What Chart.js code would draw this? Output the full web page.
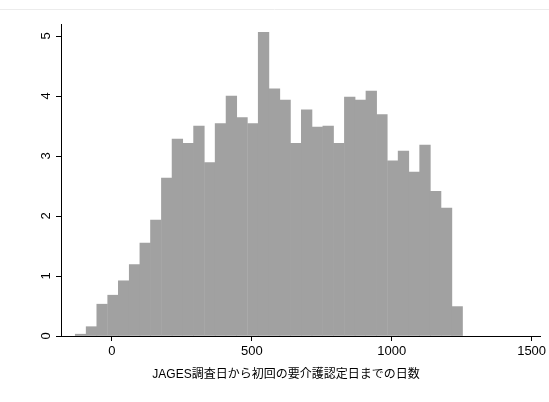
<!DOCTYPE html>
<html>
<head>
<meta charset="utf-8">
<script src="https://cdn.jsdelivr.net/npm/chart.js@4"></script>
<style>
  html, body { margin: 0; padding: 0; background: #fff; }
  #wrap { width: 549px; height: 402px; }
</style>
</head>
<body>
<div id="wrap"><canvas id="chart"></canvas></div>
<script>
// bin centers (days) and percent per bin
const binCenters = [-112, -73, -35, 4, 42, 81, 119, 157, 196, 234, 273, 311,
  350, 388, 427, 465, 504, 542, 581, 619, 657, 696, 734, 773,
  811, 850, 888, 927, 965, 1004, 1042, 1081, 1119, 1157, 1196, 1234];
const percents = [0.03, 0.155, 0.53, 0.68, 0.92, 1.19, 1.55, 1.93, 2.63, 3.28, 3.21, 3.5,
  2.89, 3.54, 4.0, 3.64, 3.54, 5.06, 4.12, 3.93, 3.21, 3.77, 3.48, 3.5,
  3.21, 3.98, 3.93, 4.08, 3.69, 2.92, 3.08, 2.73, 3.18, 2.41, 2.13, 0.49];
const xTicks = [0, 500, 1000, 1500];
const yTicks = [0, 1, 2, 3, 4, 5];
const xTitle = 'JAGES調査日から初回の要介護認定日までの日数';

const FONT = '"Liberation Sans", Arial, "Noto Sans CJK JP", sans-serif';

// rotated y labels, x title and the faint top rule
const extras = {
  id: 'extras',
  afterDraw(chart) {
    const ctx = chart.ctx;
    const y = chart.scales.y;
    ctx.save();
    ctx.strokeStyle = '#ececec';
    ctx.lineWidth = 1;
    ctx.beginPath();
    ctx.moveTo(0, 9.5);
    ctx.lineTo(chart.width, 9.5);
    ctx.stroke();

    ctx.fillStyle = '#000';
    ctx.font = '13px ' + FONT;
    ctx.textAlign = 'center';
    ctx.textBaseline = 'middle';
    yTicks.forEach(v => {
      ctx.save();
      ctx.translate(46, y.getPixelForValue(v));
      ctx.rotate(-Math.PI / 2);
      ctx.fillText(String(v), 0, 0);
      ctx.restore();
    });

    ctx.font = '12px ' + FONT;
    ctx.fillText(xTitle, 286, 375);
    ctx.restore();
  }
};

new Chart(document.getElementById('chart'), {
  type: 'bar',
  data: {
    datasets: [{
      data: binCenters.map((c, i) => ({ x: c, y: percents[i] })),
      backgroundColor: '#a1a1a1',
      borderWidth: 0,
      barPercentage: 1,
      categoryPercentage: 1
    }]
  },
  options: {
    responsive: true,
    maintainAspectRatio: false,
    animation: false,
    events: [],
    layout: { padding: { left: 0, right: 9, top: 24, bottom: 0 } },
    plugins: {
      legend: { display: false },
      tooltip: { enabled: false }
    },
    scales: {
      x: {
        type: 'linear',
        offset: false,
        min: -182,
        max: 1530,
        afterBuildTicks: s => { s.ticks = xTicks.map(v => ({ value: v })); },
        afterFit: s => { s.height = 66; s.paddingLeft = 0; s.paddingRight = 0; },
        border: { display: true, color: '#000', width: 1 },
        grid: { offset: false, drawOnChartArea: false, drawTicks: true, tickLength: 5, color: '#000' },
        ticks: {
          color: '#000', font: { size: 13, family: FONT }, padding: 3, maxRotation: 0,
          callback: v => String(v)
        }
      },
      y: {
        min: 0,
        max: 5.2,
        afterBuildTicks: s => { s.ticks = yTicks.map(v => ({ value: v })); },
        afterFit: s => { s.width = 61; s.paddingTop = 0; s.paddingBottom = 0; },
        border: { display: true, color: '#000', width: 1 },
        grid: { drawOnChartArea: false, drawTicks: true, tickLength: 5, color: '#000' },
        ticks: { display: false }
      }
    }
  },
  plugins: [extras]
});
</script>
</body>
</html>
